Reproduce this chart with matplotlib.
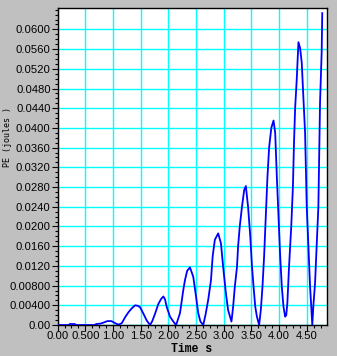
import numpy as np
import matplotlib
matplotlib.use("Agg")
import matplotlib.pyplot as plt
from matplotlib.ticker import FixedLocator, MultipleLocator

# PE vs time
time = [0.00, 0.20, 0.22, 0.31, 0.33, 0.66, 0.70, 0.78, 0.83, 0.90, 0.97, 1.02,
        1.07, 1.11, 1.16, 1.22, 1.28, 1.34, 1.40, 1.45, 1.49, 1.55, 1.61, 1.67,
        1.71, 1.76, 1.82, 1.87, 1.91, 1.94, 1.97, 2.03, 2.09, 2.14, 2.21, 2.27,
        2.30, 2.34, 2.39, 2.45, 2.50, 2.54, 2.58, 2.63, 2.67, 2.72, 2.77, 2.80,
        2.84, 2.90, 2.95, 2.99, 3.04, 3.08, 3.14, 3.17, 3.20, 3.24, 3.26, 3.29,
        3.33, 3.37, 3.40, 3.44, 3.48, 3.51, 3.54, 3.57, 3.60, 3.64, 3.67, 3.70,
        3.73, 3.76, 3.79, 3.82, 3.86, 3.90, 3.93, 3.96, 3.99, 4.02, 4.05, 4.08,
        4.11, 4.13, 4.15, 4.18, 4.22, 4.25, 4.27, 4.29, 4.32, 4.35, 4.38, 4.41,
        4.44, 4.47, 4.50, 4.53, 4.56, 4.58, 4.60, 4.62, 4.65, 4.68, 4.71, 4.74,
        4.77, 4.78]
pe = [0.0000, 0.0000, 0.0002, 0.0002, 0.0000, 0.0000, 0.0002, 0.0003, 0.0005,
      0.0008, 0.0008, 0.0005, 0.0002, 0.0001, 0.0004, 0.0016, 0.0026, 0.0034,
      0.0040, 0.0039, 0.0036, 0.0023, 0.0009, 0.0000, 0.0008, 0.0023, 0.0043,
      0.0053, 0.0058, 0.0052, 0.0037, 0.0017, 0.0007, 0.0000, 0.0024, 0.0071,
      0.0091, 0.0110, 0.0117, 0.0098, 0.0058, 0.0024, 0.0007, 0.0000, 0.0020,
      0.0051, 0.0091, 0.0139, 0.0173, 0.0186, 0.0166, 0.0118, 0.0064, 0.0030,
      0.0007, 0.0037, 0.0077, 0.0118, 0.0160, 0.0200, 0.0240, 0.0274, 0.0282,
      0.0240, 0.0180, 0.0120, 0.0077, 0.0037, 0.0017, 0.0000, 0.0030, 0.0077,
      0.0140, 0.0220, 0.0300, 0.0360, 0.0400, 0.0415, 0.0390, 0.0300, 0.0220,
      0.0140, 0.0077, 0.0037, 0.0017, 0.0020, 0.0045, 0.0118, 0.0200, 0.0280,
      0.0370, 0.0440, 0.0500, 0.0574, 0.0562, 0.0532, 0.0460, 0.0390, 0.0240,
      0.0160, 0.0078, 0.0040, 0.0000, 0.0040, 0.0085, 0.0163, 0.0240, 0.0451,
      0.0555, 0.0633]

xticks = [0.0, 0.5, 1.0, 1.5, 2.0, 2.5, 3.0, 3.5, 4.0, 4.5]
xlabels = ['0.00', '0.500', '1.00', '1.50', '2.00', '2.50', '3.00', '3.50', '4.00', '4.50']
yticks = [0.0, 0.004, 0.008, 0.012, 0.016, 0.020, 0.024, 0.028, 0.032, 0.036,
          0.040, 0.044, 0.048, 0.052, 0.056, 0.060]
ylabels = ['0.00', '0.00400', '0.00800', '0.0120', '0.0160', '0.0200', '0.0240',
           '0.0280', '0.0320', '0.0360', '0.0400', '0.0440', '0.0480', '0.0520',
           '0.0560', '0.0600']

fig = plt.figure(figsize=(3.37, 3.56), dpi=100, facecolor='#c0c0c0')
ax = fig.add_axes([0.171, 0.087, 0.800, 0.890])
ax.set_facecolor('white')

ax.plot(time, pe, color='#0000ff', lw=1.3, zorder=3)

ax.set_xlim(0, 4.87)
ax.set_ylim(0, 0.0643)

ax.xaxis.set_major_locator(FixedLocator(xticks))
ax.set_xticklabels(xlabels)
ax.xaxis.set_minor_locator(MultipleLocator(0.125))
ax.yaxis.set_major_locator(FixedLocator(yticks))
ax.set_yticklabels(ylabels)
ax.yaxis.set_minor_locator(MultipleLocator(0.001))

for lab in ax.get_xticklabels() + ax.get_yticklabels():
    lab.set_fontfamily('Liberation Sans')
    lab.set_fontsize(8.1)

ax.tick_params(which='major', length=4, width=0.8, color='black', pad=1.0)
ax.tick_params(axis='x', which='major', pad=0.3)
ax.tick_params(which='minor', length=2, width=0.8, color='black')
ax.tick_params(top=False, right=False)

ax.grid(True, which='major', color='#00ffff', lw=1.0, zorder=1)
ax.set_axisbelow(True)
for s in ax.spines.values():
    s.set_color('black')
    s.set_linewidth(1.0)

fig.text(0.568, 1 - 349.5 / 356, 'Time s', family='Liberation Mono', weight='bold',
         fontsize=8.3, ha='center', va='center')
fig.text(0.022, 0.615, 'PE (joules )', rotation=90, family='DejaVu Sans Mono',
         fontsize=6.0, ha='center', va='center')

fig.savefig('out.png', dpi=100, facecolor=fig.get_facecolor())
